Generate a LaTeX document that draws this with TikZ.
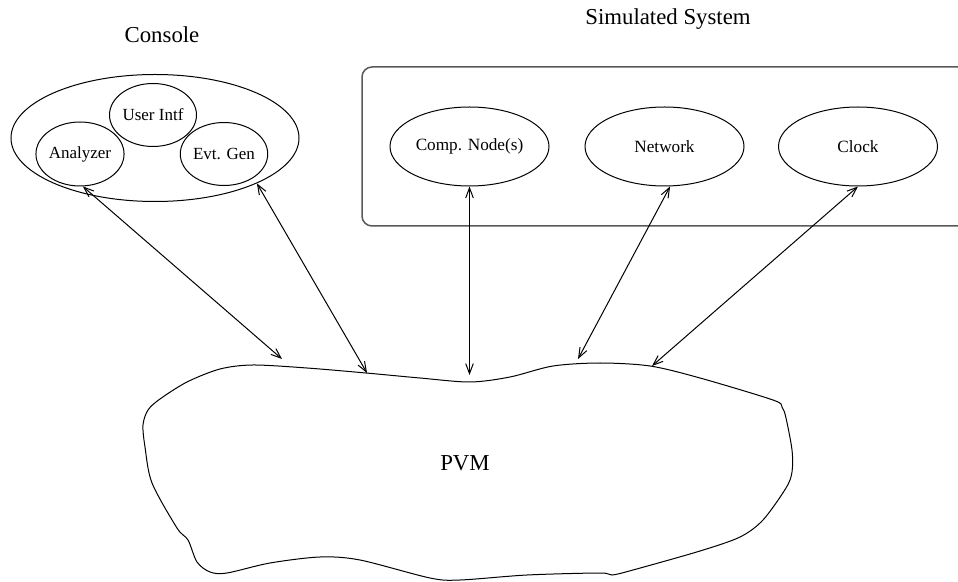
\documentclass[tikz,border=0pt]{standalone}
\usepackage{fontspec}
\setmainfont{Liberation Serif}
\usetikzlibrary{shapes.geometric,arrows.meta}

\begin{document}
\begin{tikzpicture}[x=0.5pt, y=-0.5pt, line width=0.5pt,
    >={Straight Barb[length=5pt, width=3.8pt]},
    part/.style={draw, ellipse, inner sep=0pt, font=\fontsize{8.5}{10}\selectfont},
    unit/.style={draw, ellipse, inner sep=0pt, minimum width=79.5pt, minimum height=39.5pt, font=\fontsize{8.6}{10}\selectfont},
    title/.style={font=\fontsize{11.4}{13}\selectfont}]

    \useasboundingbox (0,0) rectangle (958,582);
    \clip (0,0) rectangle (958,582);

    % console side
    \node[title] (contitle) at (162,35) {Console};
    \node[part, minimum width=144pt, minimum height=63.5pt] (con) at (155,138) {};
    \node[part, minimum width=43.5pt, minimum height=31.5pt] (ui) at (153,115) {User Intf};
    \node[part, minimum width=44pt, minimum height=32pt] (ana) at (80,154) {Analyzer};
    \node[part, minimum width=42.5pt, minimum height=31.5pt] (evt) at (224,154) {Evt. Gen};

    % simulated system
    \node[title] (simtitle) at (668,19) {Simulated System};
    \draw[rounded corners=5pt, draw=black!65, line width=0.75pt] (362,67) rectangle (1000,226);
    \node[unit] (comp) at (469.5,146.5) {Comp. Node(s)};
    \node[unit] (net) at (664.5,146.5) {Network};
    \node[unit] (clk) at (858,146.5) {Clock};

    % pvm
    \draw plot[smooth cycle, tension=0.5] coordinates {
        (143,425) (148,410) (160,399) (187,382) (220,369) (253,365) (307,368)
        (366,373) (420,378) (470,382) (510,377) (553,366) (600,363) (650,366)
        (700,378) (773,400) (782,407) (786,418) (792,450) (792,472) (786,488)
        (763,520) (740,537) (700,551) (633,570) (612,575) (600,573) (527,575)
        (460,580) (430,578) (360,560) (320,557) (270,563) (227,573) (210,572)
        (197,562) (188,540) (177,528) (152,483) (145,447)};
    \node[title] (pvm) at (465,463) {PVM};

    \coordinate (b1) at (282,359);
    \coordinate (b2) at (367,373);
    \coordinate (b3) at (469.5,375);
    \coordinate (b4) at (578,359);
    \coordinate (b5) at (652,366);

    \path[<->]
        (ana.-85) edge (b1)
        (con.-24) edge (b2)
        (comp.south) edge (b3)
        (net.-82) edge (b4)
        (clk.south) edge (b5);

\end{tikzpicture}
\end{document}
